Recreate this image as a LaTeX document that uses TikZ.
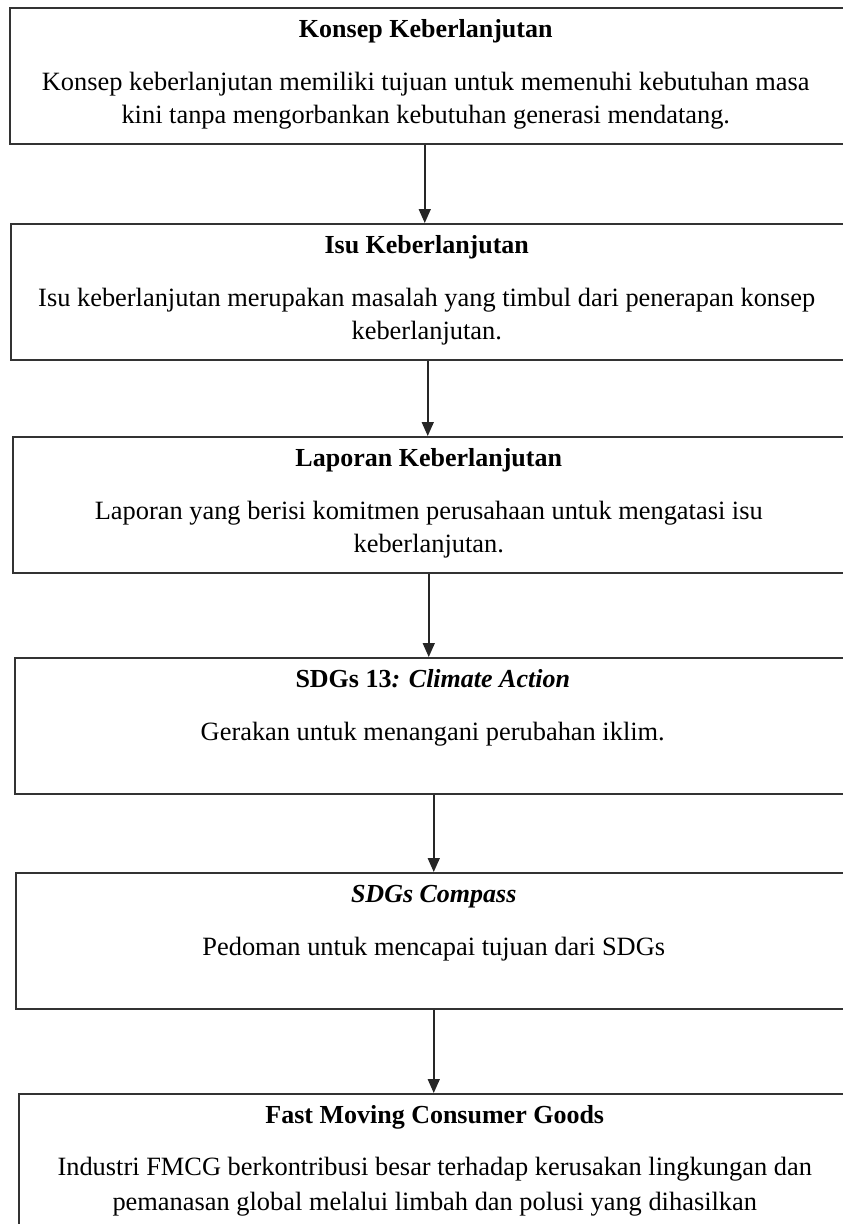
\documentclass[tikz,border=0pt]{standalone}
\usepackage{fontspec}
\setmainfont{Liberation Serif}
\usetikzlibrary{arrows.meta}
\begin{document}
\begin{tikzpicture}[x=1pt,y=-1pt,
  boxnode/.style={draw=black!80, line width=1.5pt, rectangle, anchor=north west, minimum width=836pt, minimum height=136pt, inner sep=0pt},
  hd/.style={anchor=base, font=\fontsize{26}{34}\selectfont\bfseries, inner sep=0pt},
  bd/.style={anchor=base, font=\fontsize{26.4}{34}\selectfont, inner sep=0pt},
  arr/.style={draw=black!85, line width=1.6pt, -{Triangle[width=12pt,length=14pt]}}]
\useasboundingbox (0,0) rectangle (843,1224);
\clip (0,0) rectangle (843,1224);
\node[boxnode] (b1) at (9,7) {};
\node[boxnode] (b2) at (10,223) {};
\node[boxnode] (b3) at (12,436) {};
\node[boxnode] (b4) at (14,657) {};
\node[boxnode] (b5) at (15,872) {};
\node[boxnode] (b6) at (18,1093) {};
% box 1
\node[hd] (h1) at ([yshift=-30pt,xshift=-2pt]b1.north) {Konsep Keberlanjutan};
\node[bd] (t1a) at ([yshift=-83pt,xshift=-2pt]b1.north) {Konsep keberlanjutan memiliki tujuan untuk memenuhi kebutuhan masa};
\node[bd] (t1b) at ([yshift=-116pt,xshift=-2pt]b1.north) {kini tanpa mengorbankan kebutuhan generasi mendatang.};
% box 2
\node[hd] (h2) at ([yshift=-30pt,xshift=-2pt]b2.north) {Isu Keberlanjutan};
\node[bd] (t2a) at ([yshift=-83pt,xshift=-2pt]b2.north) {Isu keberlanjutan merupakan masalah yang timbul dari penerapan konsep};
\node[bd] (t2b) at ([yshift=-116pt,xshift=-2pt]b2.north) {keberlanjutan.};
% box 3
\node[hd] (h3) at ([yshift=-30pt,xshift=-2pt]b3.north) {Laporan Keberlanjutan};
\node[bd] (t3a) at ([yshift=-83pt,xshift=-2pt]b3.north) {Laporan yang berisi komitmen perusahaan untuk mengatasi isu};
\node[bd] (t3b) at ([yshift=-116pt,xshift=-2pt]b3.north) {keberlanjutan.};
% box 4
\node[hd] (h4) at ([yshift=-30pt]b4.north) {SDGs 13\textit{: Climate Action}};
\node[bd] (t4a) at ([yshift=-83pt]b4.north) {Gerakan untuk menangani perubahan iklim.};
% box 5
\node[hd] (h5) at ([yshift=-30pt]b5.north) {\textit{SDGs Compass}};
\node[bd] (t5a) at ([yshift=-83pt]b5.north) {Pedoman untuk mencapai tujuan dari SDGs};
% box 6
\node[hd] (h6) at ([yshift=-30pt,xshift=-2pt]b6.north) {Fast Moving Consumer Goods};
\node[bd] (t6a) at ([yshift=-82pt,xshift=-2pt]b6.north) {Industri FMCG berkontribusi besar terhadap kerusakan lingkungan dan};
\node[bd] (t6b) at ([yshift=-117pt,xshift=-2pt]b6.north) {pemanasan global melalui limbah dan polusi yang dihasilkan};
% arrows
\draw[arr] ([xshift=-3pt]b1.south) -- ([xshift=-3pt]b1.south |- b2.north);
\draw[arr] ([xshift=-1pt]b2.south) -- ([xshift=-1pt]b2.south |- b3.north);
\draw[arr] ([xshift=-2pt]b3.south) -- ([xshift=-2pt]b3.south |- b4.north);
\draw[arr] ([xshift=1pt]b4.south) -- ([xshift=1pt]b4.south |- b5.north);
\draw[arr] ([xshift=0pt]b5.south) -- ([xshift=0pt]b5.south |- b6.north);
\end{tikzpicture}
\end{document}
